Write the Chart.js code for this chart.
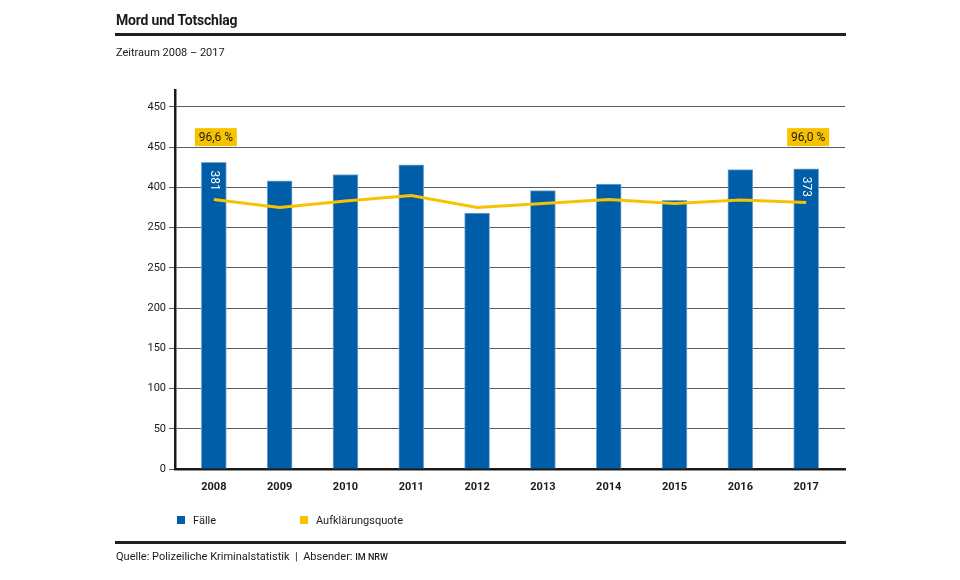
<!DOCTYPE html>
<html>
<head>
<meta charset="utf-8">
<script src="https://cdn.jsdelivr.net/npm/chart.js@4.4.1/dist/chart.umd.min.js"></script>
<style>
  html, body { margin:0; padding:0; background:#fff; }
  body { width:960px; height:580px; position:relative; overflow:hidden; font-family: Roboto, "Liberation Sans", sans-serif; color:#1a1a1a; }
  #wrap { position:absolute; left:0; top:0; width:960px; height:580px; }
  .abs { position:absolute; white-space:nowrap; }
  #title { left:116px; top:12px; font-size:14px; font-weight:700; letter-spacing:-0.2px; }
  #rule1 { left:115px; top:33px; width:731px; height:3px; background:#1f1f1f; }
  #sub { left:116px; top:46px; font-size:11px; }
  #rule2 { left:115px; top:541px; width:731px; height:3px; background:#1f1f1f; }
  #src { left:116px; top:550px; font-size:11px; }
  #src small { font-size:9px; font-weight:500; }
  .leg { top:514px; font-size:11px; }
  .sw { display:inline-block; width:8px; height:8px; vertical-align:-0px; margin-right:8px; }
</style>
</head>
<body>
<div id="wrap"><canvas id="c" width="960" height="580"></canvas></div>
<div class="abs" id="title">Mord und Totschlag</div>
<div class="abs" id="rule1"></div>
<div class="abs" id="sub">Zeitraum 2008 – 2017</div>
<div class="abs leg" style="left:177px"><span class="sw" style="background:#005ea8"></span>Fälle</div>
<div class="abs leg" style="left:300px"><span class="sw" style="background:#f7c300"></span>Aufklärungsquote</div>
<div class="abs" id="rule2"></div>
<div class="abs" id="src">Quelle: Polizeiliche Kriminalstatistik &nbsp;|&nbsp; Absender: <small>IM NRW</small></div>
<script>
const years = ['2008','2009','2010','2011','2012','2013','2014','2015','2016','2017'];
const faelle = [381, 358, 366, 378, 318, 346, 354, 334, 372, 373];
const quote = [96.6, 95.0, 96.3, 97.4, 95.0, 95.8, 96.6, 95.8, 96.5, 96.0];
const yTickLabels = ['0','50','100','150','200','250','250','400','450','450'];
const labelledIdx = [0, 9];

const BLUE = '#005ea8';
const YELLOW = '#f7c300';
const FONT = 'Roboto, "Liberation Sans", sans-serif';

const annot = {
  id: 'annot',
  afterDatasetsDraw(chart) {
    const ctx = chart.ctx;
    const xs = chart.scales.x, ys = chart.scales.y;
    const barMeta = chart.getDatasetMeta(1);
    ctx.save();
    labelledIdx.forEach(i => {
      const bar = barMeta.data[i];
      const cx = xs.getPixelForValue(i);
      const bottom = ys.getPixelForValue(400) - 1;
      const w = 42, h = 18;
      ctx.fillStyle = YELLOW;
      ctx.fillRect(cx + 2 - w/2, bottom - h, w, h);
      ctx.fillStyle = '#1a1a1a';
      ctx.font = '12px ' + FONT;
      ctx.textAlign = 'center';
      ctx.textBaseline = 'middle';
      ctx.fillText(quote[i].toFixed(1).replace('.', ',') + ' %', cx + 2, bottom - h/2 + 0.5);
      ctx.save();
      ctx.translate(cx, bar.y + 8);
      ctx.rotate(Math.PI / 2);
      ctx.fillStyle = '#ffffff';
      ctx.font = '12px ' + FONT;
      ctx.textAlign = 'left';
      ctx.textBaseline = 'middle';
      ctx.fillText(String(faelle[i]), 0, 0);
      ctx.restore();
    });
    ctx.restore();
  }
};

new Chart(document.getElementById('c'), {
  data: {
    datasets: [
      {
        type: 'line',
        label: 'Aufklärungsquote',
        data: quote.map((v, i) => ({x: i, y: v})),
        yAxisID: 'y2',
        borderColor: YELLOW,
        borderWidth: 3,
        pointRadius: 0,
        tension: 0,
        order: 0
      },
      {
        type: 'bar',
        label: 'Fälle',
        data: faelle.map((v, i) => ({x: i, y: v})),
        yAxisID: 'y',
        backgroundColor: BLUE,
        borderColor: '#7aa8d2',
        borderWidth: 1,
        barThickness: 25,
        order: 1
      }
    ]
  },
  options: {
    responsive: false,
    animation: false,
    devicePixelRatio: 1,
    layout: { padding: { left: 0, top: 90, right: 115, bottom: 81 } },
    plugins: { legend: { display: false }, tooltip: { enabled: false }, title: { display: false } },
    scales: {
      x: {
        type: 'linear',
        offset: false,
        min: -0.59,
        max: 9.59,
        grid: { display: false, offset: false },
        border: { display: true, color: '#1a1a1a', width: 2.5 },
        afterFit(s) { s.height = 30; },
        ticks: {
          stepSize: 1,
          includeBounds: false,
          autoSkip: false,
          maxRotation: 0,
          padding: 4,
          color: '#1a1a1a',
          font: { family: FONT, size: 11, weight: 'bold' },
          callback: v => Number.isInteger(v) && v >= 0 && v < years.length ? years[v] : ''
        }
      },
      y: {
        min: 0,
        max: 471,
        grid: { color: '#5a5a5a', lineWidth: 1, drawTicks: true, tickLength: 6 },
        border: { display: true, color: '#1a1a1a', width: 2.5 },
        afterFit(s) { s.width = 175; },
        ticks: {
          stepSize: 50,
          includeBounds: false,
          padding: 3,
          color: '#1a1a1a',
          font: { family: FONT, size: 11 },
          callback: v => yTickLabels[Math.round(v / 50)]
        }
      },
      y2: {
        display: false,
        min: 42.7,
        max: 118.5
      }
    }
  },
  plugins: [annot]
});
</script>
</body>
</html>
